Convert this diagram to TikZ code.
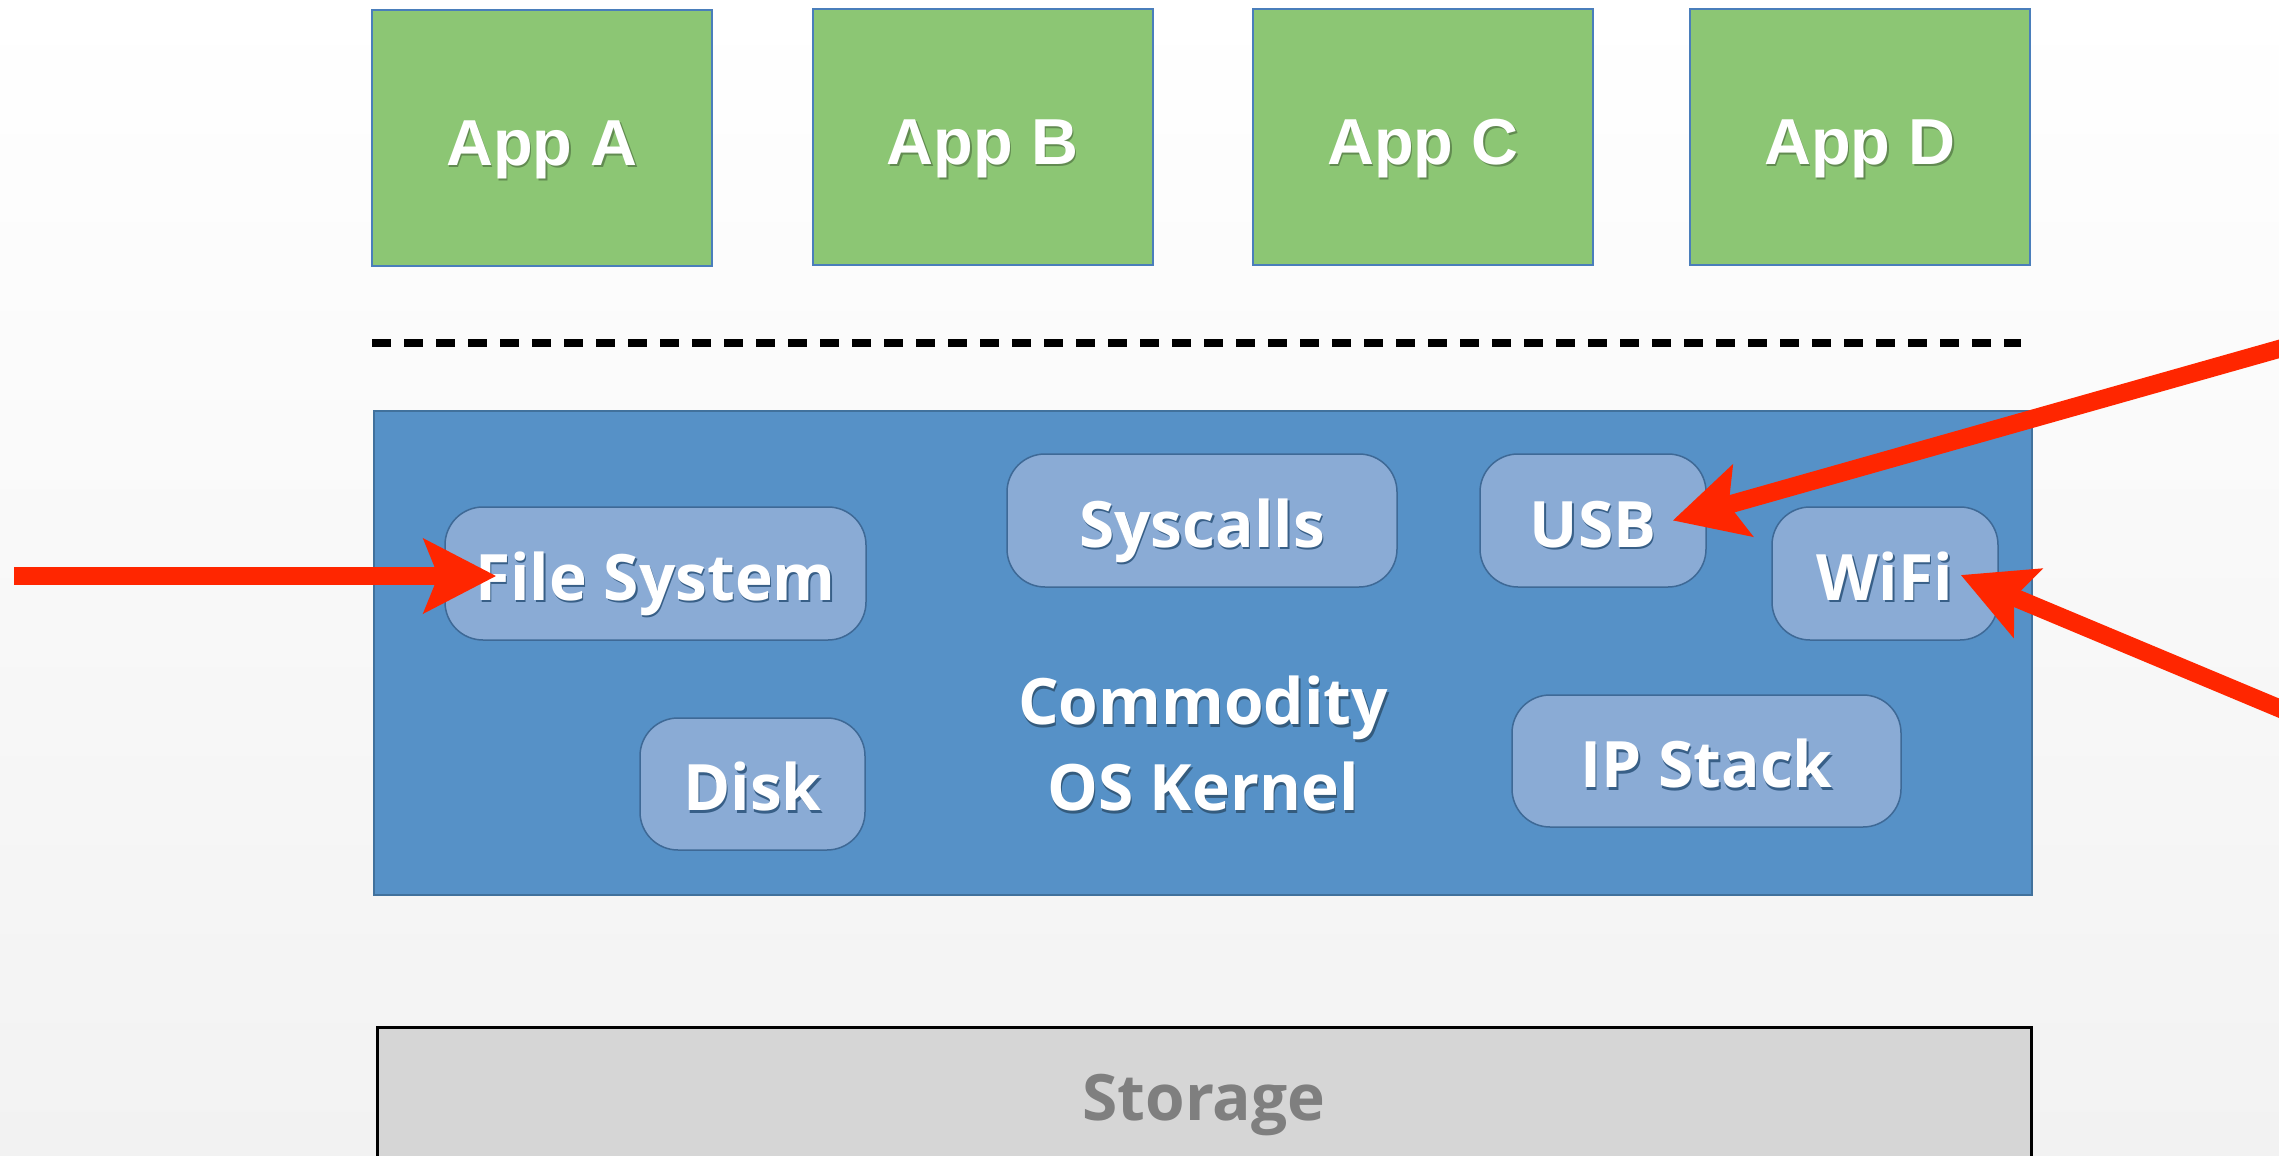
\documentclass[tikz,border=0pt]{standalone}
\usepackage{fontspec}
\setmainfont{Open Sans}
\newfontfamily\appfont{Liberation Sans}
\usetikzlibrary{arrows.meta}
\definecolor{appgreen}{RGB}{140,198,116}
\definecolor{appborder}{RGB}{74,126,187}
\definecolor{kernelblue}{RGB}{86,145,199}
\definecolor{kernelborder}{RGB}{65,113,156}
\definecolor{innerfill}{RGB}{138,171,213}
\definecolor{innerborder}{RGB}{62,105,150}
\definecolor{storfill}{RGB}{214,214,214}
\definecolor{stortext}{RGB}{127,127,127}
\definecolor{arrowred}{RGB}{255,38,0}
\newcommand\shtxt[2]{\rlap{\kern1.5pt\raisebox{-2.5pt}{\color{#1}#2}}#2}
\tikzset{
  appbox/.style={draw=appborder, line width=2pt, fill=appgreen, minimum width=340pt, minimum height=256pt,
    text=white, font=\appfont\bfseries\fontsize{65}{70}\selectfont, inner sep=0pt, text height=54pt, text depth=0pt},
  kernelbox/.style={draw=kernelborder, line width=2pt, fill=kernelblue, minimum width=1658pt, minimum height=484pt, inner sep=0pt},
  compbox/.style={draw=innerborder, line width=1.5pt, fill=innerfill, rounded corners=38pt, minimum height=133pt,
    text=white, font=\bfseries\fontsize{64}{70}\selectfont, inner sep=0pt, text height=53pt, text depth=0pt},
  kerneltext/.style={text=white, font=\bfseries\fontsize{64}{86}\selectfont, align=center, inner sep=0pt},
  storbox/.style={draw=black, line width=3pt, fill=storfill, minimum width=1654pt, minimum height=146pt,
    text=stortext, font=\bfseries\fontsize{64}{70}\selectfont, inner sep=0pt, text height=40pt, text depth=0pt},
  sep/.style={line width=8pt, dash pattern=on 18.5pt off 13.5pt},
  redarrow/.style={draw=arrowred, line width=18pt, -{Stealth[length=72pt, width=73pt, inset=14pt]}},
}
\begin{document}
\begin{tikzpicture}[x=1pt, y=-1pt]
\useasboundingbox (0,0) rectangle (2279,1156);
\clip (0,0) rectangle (2279,1156);
\shade[top color=white, middle color=white, bottom color={rgb,255:red,242;green,242;blue,242}] (0,0) rectangle (2279,1156);

% apps
\node[appbox] (appa) at (542,138) {\shtxt{appgreen!70!black}{App A}};
\node[appbox] (appb) at (982.5,137) {\shtxt{appgreen!70!black}{App B}};
\node[appbox] (appc) at (1423,137) {\shtxt{appgreen!70!black}{App C}};
\node[appbox] (appd) at (1860,137) {\shtxt{appgreen!70!black}{App D}};

% separator
\coordinate (sepl) at (372,343);
\coordinate (sepr) at (2021,343);
\draw[sep] (sepl) -- (sepr);

% kernel
\node[kernelbox] (kernel) at (1203,653) {};
\node[compbox, minimum width=421pt] (fs) at (655.5,573.5) {\shtxt{innerborder!90!black}{File System}};
\node[compbox, minimum width=390pt] (sys) at (1202,520.5) {\shtxt{innerborder!90!black}{Syscalls}};
\node[compbox, minimum width=226pt] (usb) at (1593,520.5) {\shtxt{innerborder!90!black}{USB}};
\node[compbox, minimum width=226pt] (wifi) at (1885,573.5) {\shtxt{innerborder!90!black}{WiFi}};
\node[compbox, minimum width=225pt, minimum height=132pt] (disk) at (752.5,784) {\shtxt{innerborder!90!black}{Disk}};
\node[compbox, minimum width=389pt, minimum height=132pt] (ip) at (1706.5,761) {\shtxt{innerborder!90!black}{IP Stack}};
\node[kerneltext] (ktext) at (1203,745) {\shtxt{kernelborder!80!black}{Commodity}\\\shtxt{kernelborder!80!black}{OS Kernel}};

% storage
\node[storbox] (stor) at (1204,1100) {Storage};

% red arrows
\coordinate (srcfs) at (14,576);
\coordinate (srcusb) at (2300,343);
\coordinate (srcwifi) at (2300,717);
\draw[redarrow] (srcfs) -- ([xshift=52pt, yshift=-2.5pt]fs.west);
\draw[redarrow] (srcusb) -- ([xshift=-34pt]usb.east);
\draw[redarrow] (srcwifi) -- ([xshift=-38pt, yshift=-1.5pt]wifi.east);
\end{tikzpicture}
\end{document}
